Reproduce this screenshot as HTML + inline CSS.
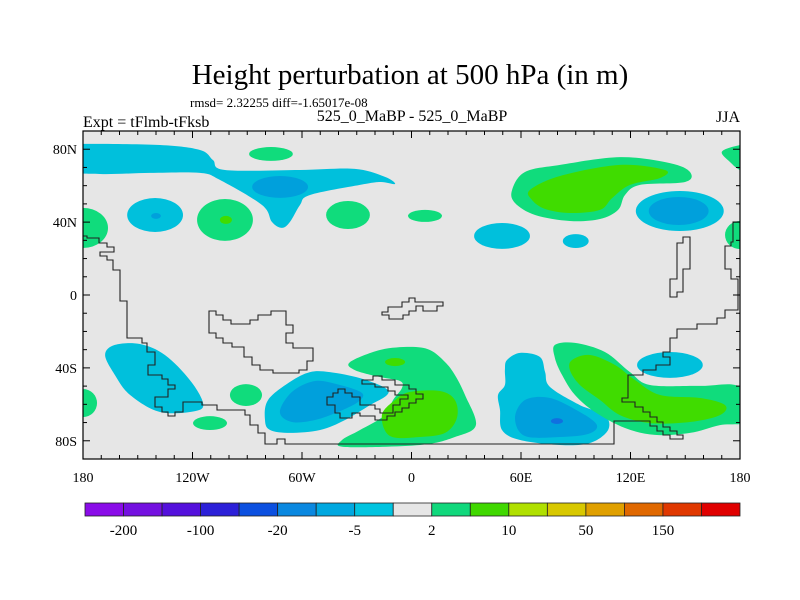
<!DOCTYPE html>
<html><head><meta charset="utf-8"><style>
body{margin:0;background:#fff;}
svg{display:block;font-family:"Liberation Serif",serif;}
</style></head><body>
<svg id="chart" width="800" height="600" viewBox="0 0 800 600" xmlns="http://www.w3.org/2000/svg">
<rect width="800" height="600" fill="#fff"/>
<text x="410" y="84" font-size="29" text-anchor="middle">Height perturbation at 500 hPa (in m)</text>
<text x="190" y="107" font-size="13">rmsd= 2.32255 diff=-1.65017e-08</text>
<text x="83" y="127" font-size="16">Expt = tFlmb-tFksb</text>
<text x="412" y="121" font-size="16" text-anchor="middle">525_0_MaBP - 525_0_MaBP</text>
<text x="740" y="122" font-size="16" text-anchor="end">JJA</text>
<defs><clipPath id="mapclip"><rect x="83" y="131" width="657" height="328"/></clipPath></defs>
<g id="mapg" clip-path="url(#mapclip)"><rect x="83" y="131" width="657" height="328" fill="#e6e6e6"/></g>
<g id="coast" fill="none" stroke="#222" stroke-width="1.1">
<path d="M83,236 H87 V238 H99 V243 H107 V247 H114 V252 H100 V256 H107 V260 H113 V270 H120 V301 H127 V338 H142 V343 H147 V352 H155 V365 H148 V375 H162 V379 H168 V385 H175 V389 H168 V397 H155 V407 H162 V412 H168 V416 H175 V412 H183 V402 H202 V405 H217 V410 H245 V415 H250 V425 H258 V433 H265 V444 H277 V439 H285 V444 H614 V421 H650 V426 H657 V431 H663 V435 H670 V439 H683 V435 H677 V431 H670 V427 H663 V422 H657 V417 H650 V412 H643 V407 H635 V402 H622 V398 H628 V375 H643 V370 H656 V365 H670 V357 H663 V352 H670 V338 H677 V329 H697 V324 H717 V318 H725 V310 H738 V279 H731 V269 H725 V246 H731 V242 H733 V222 H740"/>
<path d="M209,311 H216 V315 H223 V320 H231 V324 H250 V320 H258 V315 H271 V311 H286 V325 H293 V333 H286 V343 H293 V348 H313 V361 H307 V370 H299 V373 H273 V370 H260 V365 H252 V357 H244 V347 H232 V343 H223 V338 H216 V333 H209 Z"/>
<path d="M382,312 H388 V307 H402 V302 H409 V298 H415 V302 H443 V306 H437 V311 H423 V306 H416 V311 H409 V315 H403 V319 H389 V315 H382 Z"/>
<path d="M677,243 H683 V237 H690 V269 H683 V292 H677 V297 H670 V279 H677 Z"/>
<path d="M327,397 H333 V393 H338 V389 H345 V393 H352 V397 H360 V405 H375 V409 H380 V413 H393 V405 H400 V399 H408 V395 H395 V391 H388 V387 H375 V384 H362 V380 H373 V376 H382 V380 H395 V385 H409 V389 H416 V394 H423 V399 H416 V403 H409 V408 H402 V412 H395 V416 H387 V420 H375 V416 H360 V413 H352 V418 H340 V413 H335 V405 H327 Z"/>
</g>
<rect x="83" y="131" width="657" height="328" fill="none" stroke="#000" stroke-width="1.2"/>
<g id="axes"></g>
<g id="cbar"></g>
</svg>
<script>
// contour levels and colours
const levelNames = ["cyan","blue","deep","green","lime"];
const levelColors = ["#00c0dc","#00a0dc","#1070e0","#10dc7c","#40dc00"];
// polygon blobs: [lon,lat] points
const polyLevels = ["cyan","green","cyan","green","lime","green","lime","cyan","blue","green","lime","cyan","blue"];
const polyPoints = [
 [[-180,82.9],[-137.8,82.3],[-115.9,79.6],[-108.8,74.1],[-102.2,68.6],[-61.1,68.6],[-31,69.2],[-14.5,64.8],[-9,60.9],[-17.3,62],[-28.2,60.4],[-55.6,54.9],[-61.1,49.4],[-66.6,40.1],[-71,36.8],[-76.5,40.1],[-81.9,49.4],[-104.9,63.1],[-115.9,67],[-143.3,67],[-170.7,66.4],[-185,68.6],[-185,82]],
 [[55.1,57.6],[62.2,67.5],[81.4,71.4],[114.2,75.7],[141.6,72.4],[152.6,67.5],[149.9,62],[125.2,60.4],[117,54.9],[113.2,46.7],[103.3,41.7],[86.8,40.6],[67.7,43.9],[56.7,50.5]],
 [[-167.9,-32.9],[-162.5,-27.4],[-148.8,-26.9],[-135.1,-32.9],[-121.4,-46.7],[-114.2,-59.3],[-118.6,-63.7],[-137.8,-64.2],[-154.2,-54.9],[-162.5,-43.9]],
 [[-33.7,-36.8],[-17.3,-30.2],[-0.8,-28.5],[10.1,-30.2],[18.4,-36.8],[23.8,-43.9],[29.3,-54.9],[35.3,-71.4],[23.8,-77.9],[4.7,-82.3],[-36.4,-83.4],[-38.1,-79.6],[-28.2,-74.1],[-14.5,-65.9],[-10.1,-57.6],[-5.2,-51],[-6.3,-47.2],[-17.3,-45],[-31,-41.2]],
 [[-16.2,-65.9],[-9,-57.6],[-0.8,-53.2],[15.6,-52.7],[23.8,-57.6],[24.9,-67.5],[18.4,-75.7],[4.7,-77.9],[-11.8,-77.4]],
 [[78.6,-27.4],[89.6,-26.3],[106,-31.3],[119.7,-42.3],[130.7,-49.4],[158.1,-49.9],[180,-50.5],[186,-68.6],[169,-71.4],[152.6,-75.7],[133.4,-76.8],[117,-73],[100.5,-64.2],[89.6,-54.9],[82.5,-43.9],[78.6,-34.6]],
 [[87.9,-35.7],[97.8,-32.9],[111.5,-38.4],[122.5,-46.7],[136.2,-54.9],[158.1,-56.5],[171.8,-60.4],[169,-65.9],[152.6,-69.7],[130.7,-70.3],[114.2,-65.9],[103.3,-57.6],[92.3,-49.4],[86.8,-41.2]],
 [[-80.3,-68.6],[-78.6,-57.6],[-66.6,-47.7],[-55.6,-42.3],[-44.7,-42.3],[-28.2,-45.6],[-14.5,-51],[-13.4,-54.9],[-22.7,-60.4],[-36.4,-68.6],[-50.1,-74.1],[-66.6,-75.7],[-77.5,-74.1]],
 [[-72.1,-64.2],[-65.5,-53.2],[-52.9,-47.2],[-39.2,-49.4],[-27.1,-53.8],[-29.3,-58.7],[-40.3,-64.2],[-52.9,-68.6],[-65.5,-69.7]],
 [[178,81.8],[170,78.5],[174.5,73],[180,68.6],[186,68],[186,82]],
 [[64.9,57.6],[81.4,65.3],[114.2,71.4],[138.9,68.6],[136.2,64.2],[119.7,60.4],[109.9,53.2],[103.3,46.7],[86.8,45],[73.2,47.2],[66.1,52.1]],
 [[52.3,-35.7],[59.5,-31.8],[70.4,-34],[73.2,-42.3],[75.9,-50.5],[92.3,-60.4],[106,-65.9],[107.7,-74.1],[97.8,-81.2],[81.4,-82.3],[59.5,-79.6],[49.6,-74.1],[48.5,-63.1],[47.4,-54.9],[51.2,-49.4],[51.2,-41.2]],
 [[56.7,-67.5],[62.2,-57.6],[75.9,-56.5],[92.3,-64.2],[101.6,-71.4],[96.7,-76.3],[81.4,-77.9],[62.2,-77.4]]
];
// ellipse blobs: [lon, lat, rlon, rlat]
const ellLevels = ["blue","cyan","blue","green","lime","green","green","green","green","cyan","cyan","cyan","blue","green","green","green","green","lime","cyan","deep"];
const ellValues = [
 [-72,59.3,15.3,6],[-140.5,43.9,15.3,9.3],[-140,43.4,2.7,1.6],[-102.2,41.2,15.3,11.5],[-101.7,41.2,3.3,2.2],
 [-180,36.8,13.7,11],[-77,77.4,12,3.8],[-34.8,43.9,12,7.7],[7.4,43.4,9.3,3.3],
 [49.6,32.4,15.3,7.1],[90,29.6,7.1,3.8],[147,46.1,24.1,11],[146.4,46.1,16.4,7.7],
 [180,32.9,8.2,7.7],[-180,-59.3,7.7,7.7],[-110.4,-70.3,9.3,3.8],[-90.7,-54.9,8.8,6],
 [-9,-36.8,5.5,2.2],[141.6,-38.4,18,7.1],[79.7,-69.2,3.3,1.6]
];
const drawOrder = ["cyan","green","blue","lime","deep"];
// axis labels
const lonTicks = [-180,-120,-60,0,60,120,180];
const lonLabels = ["180","120W","60W","0","60E","120E","180"];
const latTicks = [80,40,0,-40,-80];
const latLabels = ["80N","40N","0","40S","80S"];
// colorbar
const cbColors = ["#8a0ce8","#7410e0","#5410dc","#2c20d8","#0c50e0","#0a88e0","#00a8e0","#00c4e0","#e6e6e6","#10d87c","#40d800","#b0e000","#d8c800","#e0a000","#e06800","#e03800","#e00000"];
const cbLabels = ["-200","-100","-20","-5","2","10","50","150"];

const NS="http://www.w3.org/2000/svg";
const X0=83,W=657,Y0=131,H=328;
function xs(lon){return X0+(lon+180)/360*W;}
function ys(lat){return Y0+(90-lat)/180*H;}
function mk(t,a,p){const e=document.createElementNS(NS,t);for(const k in a)e.setAttribute(k,a[k]);p.appendChild(e);return e;}
function smooth(pts){
 const n=pts.length;let d="M"+pts[0][0].toFixed(1)+","+pts[0][1].toFixed(1);
 for(let i=0;i<n;i++){const p0=pts[(i-1+n)%n],p1=pts[i],p2=pts[(i+1)%n],p3=pts[(i+2)%n];
  const c1=[p1[0]+(p2[0]-p0[0])/6,p1[1]+(p2[1]-p0[1])/6],c2=[p2[0]-(p3[0]-p1[0])/6,p2[1]-(p3[1]-p1[1])/6];
  d+=" C"+c1[0].toFixed(1)+","+c1[1].toFixed(1)+" "+c2[0].toFixed(1)+","+c2[1].toFixed(1)+" "+p2[0].toFixed(1)+","+p2[1].toFixed(1);}
 return d+"Z";}
const mapg=document.getElementById('mapg');
drawOrder.forEach(lv=>{
 const col=levelColors[levelNames.indexOf(lv)];
 polyLevels.forEach((l,i)=>{ if(l!==lv)return;
  const p=mk('path',{d:smooth(polyPoints[i].map(q=>[xs(q[0]),ys(q[1])])),fill:col},mapg);
  
  
 });
 ellLevels.forEach((l,i)=>{ if(l!==lv)return;const v=ellValues[i];
  const e=mk('ellipse',{cx:xs(v[0]),cy:ys(v[1]),rx:v[2]/360*W,ry:v[3]/180*H,fill:col},mapg);
  
  
 });
});
const ax=document.getElementById('axes');
for(let lon=-180;lon<=180;lon+=10){const x=xs(lon),L=(lon%60===0)?7:4;
 mk('line',{x1:x,y1:Y0,x2:x,y2:Y0+L,stroke:'#000'},ax);mk('line',{x1:x,y1:Y0+H,x2:x,y2:Y0+H-L,stroke:'#000'},ax);}
for(let lat=-90;lat<=90;lat+=10){const y=ys(lat),L=(lat%40===0)?7:4;
 mk('line',{x1:X0,y1:y,x2:X0+L,y2:y,stroke:'#000'},ax);mk('line',{x1:X0+W,y1:y,x2:X0+W-L,y2:y,stroke:'#000'},ax);}
lonTicks.forEach((v,i)=>{const t=mk('text',{x:xs(v),y:482,'font-size':14,'text-anchor':'middle'},ax);t.textContent=lonLabels[i];
 
 });
latTicks.forEach((v,i)=>{const t=mk('text',{x:77,y:ys(v)+5,'font-size':14,'text-anchor':'end'},ax);t.textContent=latLabels[i];
 
 });
const cb=document.getElementById('cbar');const cx0=85,cw=(740-85)/cbColors.length;
cbColors.forEach((c,i)=>{const r=mk('rect',{x:cx0+i*cw,y:503,width:cw,height:13,fill:c,stroke:'#222','stroke-width':0.8},cb);
 
 });
cbLabels.forEach((s,i)=>{const t=mk('text',{x:cx0+(2*i+1)*cw,y:535,'font-size':15,'text-anchor':'middle'},cb);t.textContent=s;
 
 });
</script>
</body></html>
